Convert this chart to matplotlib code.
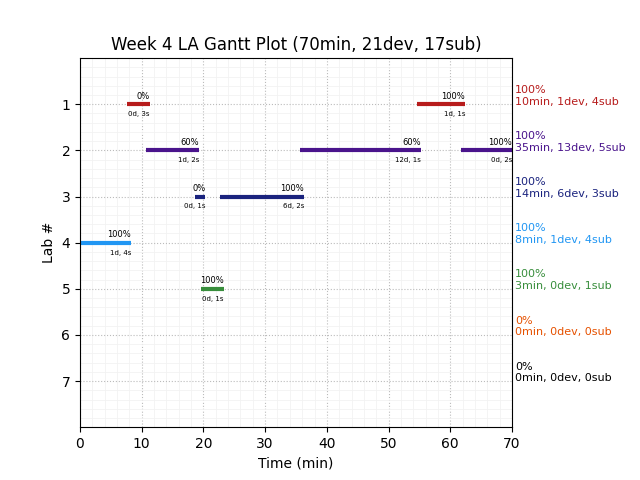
import matplotlib.pyplot as plt
from matplotlib.ticker import AutoMinorLocator

# segments per lab: (lab, start, end, pct, detail)
seg_lab = [1, 1, 2, 2, 2, 3, 3, 4, 5]
seg_start = [7.6, 54.6, 10.7, 35.6, 61.7, 18.6, 22.7, 0.0, 19.6]
seg_end = [11.3, 62.4, 19.3, 55.3, 70.0, 20.3, 36.3, 8.3, 23.3]
seg_pct = ['0%', '100%', '60%', '60%', '100%', '0%', '100%', '100%', '100%']
seg_detail = ['0d, 3s', '1d, 1s', '1d, 2s', '12d, 1s', '0d, 2s',
              '0d, 1s', '6d, 2s', '1d, 4s', '0d, 1s']

labs = [1, 2, 3, 4, 5, 6, 7]
lab_pct = ['100%', '100%', '100%', '100%', '100%', '0%', '0%']
lab_summary = ['10min, 1dev, 4sub', '35min, 13dev, 5sub', '14min, 6dev, 3sub',
               '8min, 1dev, 4sub', '3min, 0dev, 1sub', '0min, 0dev, 0sub',
               '0min, 0dev, 0sub']
lab_colors = ['#b71c1c', '#4a148c', '#1a237e', '#2196f3', '#388e3c',
              '#e65100', '#000000']

fig = plt.figure(figsize=(6.4, 4.8), dpi=100)
ax = fig.add_axes([0.125, 0.11, 0.675, 0.769])

for lab, s, e, p, d in zip(seg_lab, seg_start, seg_end, seg_pct, seg_detail):
    c = lab_colors[lab - 1]
    ax.hlines(lab, s, e, colors=c, linewidth=3)
    ax.text(e, lab - 0.08, p, ha='right', va='bottom', fontsize=6)
    ax.text(e, lab + 0.15, d, ha='right', va='top', fontsize=5)

for lab, p, sm, c in zip(labs, lab_pct, lab_summary, lab_colors):
    ax.text(70.5, lab + 0.05, p + '\n' + sm, color=c, fontsize=8,
            ha='left', va='bottom', clip_on=False)

ax.set_xlim(0, 70)
ax.set_ylim(8, 0)
ax.set_yticks(labs)
ax.xaxis.set_minor_locator(AutoMinorLocator(5))
ax.yaxis.set_minor_locator(AutoMinorLocator(5))
ax.grid(which='major', linestyle=':', color='#bbbbbb', linewidth=0.8)
ax.grid(which='minor', linestyle='-', color='#f2f2f2', linewidth=0.6)
ax.set_axisbelow(True)
ax.tick_params(which='minor', length=0)
ax.set_xlabel('Time (min)')
ax.set_ylabel('Lab #')
ax.set_title('Week 4 LA Gantt Plot (70min, 21dev, 17sub)')

fig.savefig('out.png', dpi=100)
